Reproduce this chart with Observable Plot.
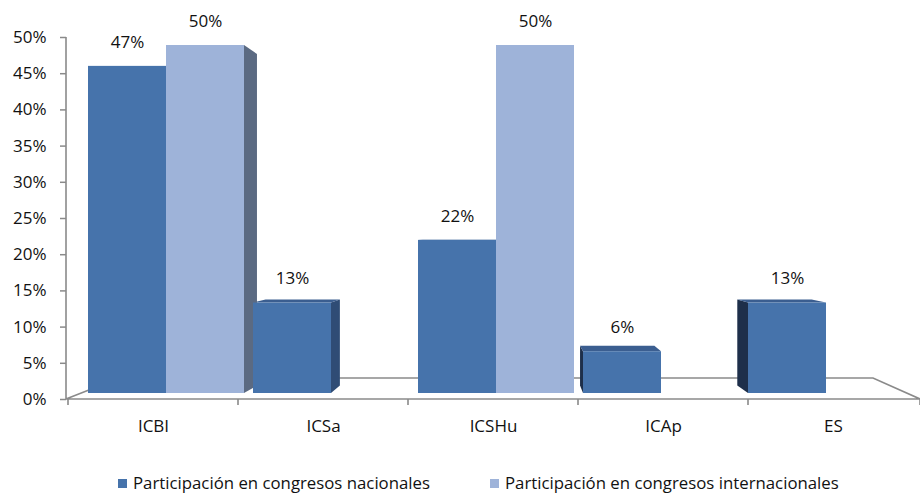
<!DOCTYPE html>
<html>
<head>
<meta charset="utf-8">
<script src="https://cdn.jsdelivr.net/npm/d3@7"></script>
<script src="https://cdn.jsdelivr.net/npm/@observablehq/plot@0.6"></script>
<style>
  body { margin: 0; background: #fff; font-family: "Open Sans", sans-serif; }
  #chart { position: relative; width: 920px; height: 440px; }
  #chart > svg { position: absolute; left: 0; top: 0; }
  g[aria-label="y-axis tick"] path, g[aria-label="y-axis tick"] line { stroke: #8a8a8a; stroke-width: 1.5; }
  #legend { display: flex; margin-top: 33px; margin-left: 118px; gap: 60px; font-size: 16.8px; line-height: 20px; color: #111; }
  #legend .item { display: flex; align-items: center; }
  #legend .sw { width: 9px; height: 9px; margin-right: 6px; }
</style>
</head>
<body>
<div id="chart"></div>
<div id="legend"></div>
<script>
// ---- data ----
const categorias = ["ICBI", "ICSa", "ICSHu", "ICAp", "ES"];
const nacionales = [0.47, 0.13, 0.22, 0.06, 0.13];
const internacionales = [0.50, null, 0.50, null, null];
const series = ["Participación en congresos nacionales", "Participación en congresos internacionales"];
const yTicks = [0, 0.05, 0.10, 0.15, 0.20, 0.25, 0.30, 0.35, 0.40, 0.45, 0.50];

const colores = ["#4673AB", "#9EB3D9"];
const pct = d => Math.round(d * 100) + "%";

const nacData = categorias.map((c, i) => ({cat: c, v: nacionales[i]})).filter(d => d.v != null);
const intData = categorias.map((c, i) => ({cat: c, v: internacionales[i]})).filter(d => d.v != null);

const SVGNS = "http://www.w3.org/2000/svg";
function poly(g, pts, fill) {
  const p = document.createElementNS(SVGNS, "polygon");
  p.setAttribute("points", pts.map(q => q.join(",")).join(" "));
  p.setAttribute("fill", fill);
  g.appendChild(p);
}

// Floor / frame of the 3D chart (axes plot)
function floorMark(index, scales, values, dims) {
  const {width, height, marginLeft, marginRight, marginTop, marginBottom} = dims;
  const y0 = height - marginBottom, xL = marginLeft, xR = width - marginRight;
  const k = 0.1175, vx = 520, vy = 220;
  const back = p => [p[0] + k * (vx - p[0]), p[1] + k * (vy - p[1])];
  const bl = back([xL, y0]), br = back([xR, y0]);
  const g = document.createElementNS(SVGNS, "g");
  g.setAttribute("fill", "none");
  g.setAttribute("stroke", "#8a8a8a");
  g.setAttribute("stroke-width", "1.6");
  const path = document.createElementNS(SVGNS, "path");
  let d = `M${xL},${marginTop}V${y0}H${xR}L${br[0]},${br[1]}H${bl[0]}L${xL},${y0}`;
  const xs = categorias.map(c => scales.x(c)).concat([xR]);
  for (const x of xs) d += `M${x},${y0}V${y0 + 6}`;
  path.setAttribute("d", d);
  g.appendChild(path);
  return g;
}

// 3D side/top faces of the bars (bars plot)
function facesMark(index, scales, values, dims) {
  const g = document.createElementNS(SVGNS, "g");
  const step = scales.x(categorias[1]) - scales.x(categorias[0]);
  const bw = step * (1 - 9 / 165);
  const k = 0.047, vx = 520, vy = 236;
  const back = p => [p[0] + k * (vx - p[0]), p[1] + k * (vy - p[1])];
  const yb = scales.y(0);
  const draw = (data, s) => {
    for (const d of data) {
      const x0 = scales.x(d.cat) + (s === 1 ? bw / 2 : 0);
      const x1 = x0 + bw / 2;
      const yt = scales.y(d.v);
      const tl = [x0, yt], tr = [x1, yt], blp = [x0, yb], brp = [x1, yb];
      const btl = back(tl), btr = back(tr), bbl = back(blp), bbr = back(brp);
      if (vx > x1) poly(g, [tr, btr, bbr, brp], s === 1 ? "#5B6A82" : "#2F4C75");
      if (vx < x0) poly(g, [tl, btl, bbl, blp], s === 1 ? "#5B6A82" : "#1E2F4A");
      if (vy < yt) poly(g, [tl, tr, btr, btl], s === 1 ? "#8799BE" : "#3B5E90");
    }
  };
  draw(nacData, 0);
  draw(intData, 1);
  return g;
}

const axesPlot = Plot.plot({
  width: 920, height: 440,
  marginLeft: 66, marginRight: 0, marginTop: 37, marginBottom: 41,
  style: {fontFamily: "Open Sans", fontSize: "17px", color: "#111", background: "transparent", overflow: "visible"},
  x: {type: "band", domain: categorias, padding: 0, label: null, tickSize: 0, tickPadding: 20},
  y: {domain: [0, 0.5], ticks: yTicks, tickFormat: pct, tickSize: 6, tickPadding: 14, label: null},
  marks: [floorMark]
});

const barsPlot = Plot.plot({
  width: 920, height: 440,
  marginLeft: 83.5, marginRight: 11.5, marginTop: 45, marginBottom: 47,
  style: {fontFamily: "Open Sans", fontSize: "17px", color: "#111", background: "transparent", overflow: "visible"},
  x: {type: "band", domain: categorias, paddingInner: 9 / 165, paddingOuter: 4.5 / 165, axis: null},
  y: {domain: [0, 0.5], axis: null},
  marks: [
    facesMark,
    Plot.barY(nacData, {x: "cat", y: "v", fill: colores[0], insetRight: 78}),
    Plot.barY(intData, {x: "cat", y: "v", fill: colores[1], insetLeft: 78}),
    Plot.text(nacData, {x: "cat", y: "v", text: d => pct(d.v), dx: -39, dy: -24, fill: "#111"}),
    Plot.text(intData, {x: "cat", y: "v", text: d => pct(d.v), dx: 39, dy: -24, fill: "#111"})
  ]
});

document.getElementById("chart").append(axesPlot, barsPlot);

const legend = document.getElementById("legend");
series.forEach((s, i) => {
  const it = document.createElement("div");
  it.className = "item";
  it.innerHTML = `<span class="sw" style="background:${colores[i]}"></span><span>${s}</span>`;
  legend.appendChild(it);
});
</script>
</body>
</html>
